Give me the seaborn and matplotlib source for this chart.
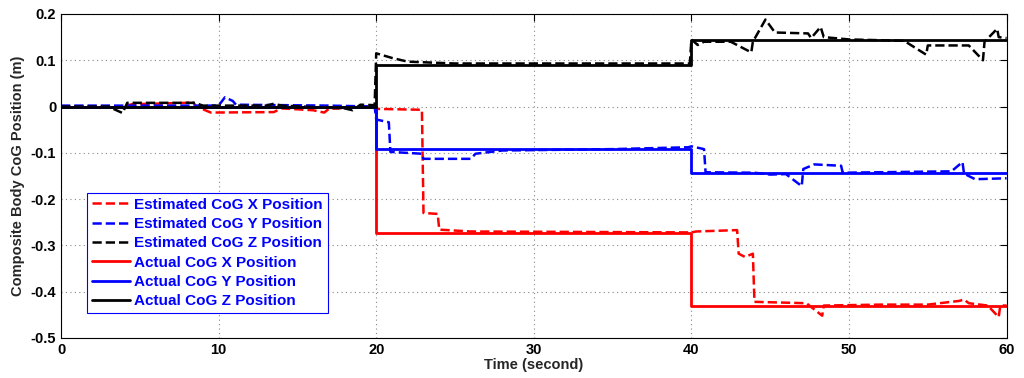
"""Composite body CoG position: estimated vs actual (MATLAB-style figure)."""

import matplotlib
matplotlib.use("Agg")
import matplotlib.pyplot as plt
import matplotlib.ticker as mticker
import pandas as pd
import seaborn as sns

# actual CoG (piecewise constant, step changes at 20 s and 40 s)
t_act = [0, 20, 40, 60]
act_x = [0.0, -0.273, -0.430, -0.430]
act_y = [0.0, -0.092, -0.144, -0.144]
act_z = [0.0, 0.090, 0.144, 0.144]

# estimated CoG, breakpoints
t_est_x = [0, 4, 4.5, 8, 8.3, 8.6, 9.5, 13.5, 14, 16, 16.7, 17, 19.9, 20, 22.9, 23,
           23.9, 24, 26, 40, 40.3, 42.9, 43, 43.4, 43.9, 44, 47.3, 48.3, 48.4, 52,
           55, 57, 57.3, 57.6, 58.8, 59.5, 59.6, 60]
est_x = [0.0, 0.0, 0.005, 0.008, 0.012, 0.0, -0.013, -0.012, -0.004, -0.008, -0.013,
         -0.005, 0.0, -0.005, -0.007, -0.230, -0.232, -0.266, -0.270, -0.272, -0.270,
         -0.267, -0.318, -0.325, -0.318, -0.422, -0.425, -0.452, -0.430, -0.428,
         -0.428, -0.420, -0.417, -0.425, -0.430, -0.455, -0.430, -0.430]

t_est_y = [0, 10, 10.4, 10.9, 11.1, 17, 19.9, 20, 20.8, 20.9, 22.9, 23, 26, 26.3, 28,
           35, 39.8, 40, 40.8, 40.9, 44, 45, 46, 47, 47.1, 47.8, 49.5, 49.6, 56.5,
           57.2, 57.3, 58, 60]
est_y = [0.002, 0.002, 0.020, 0.012, 0.004, 0.002, 0.0, -0.028, -0.034, -0.098,
         -0.102, -0.113, -0.113, -0.102, -0.095, -0.092, -0.088, -0.086, -0.092,
         -0.142, -0.143, -0.147, -0.146, -0.172, -0.135, -0.125, -0.128, -0.143,
         -0.140, -0.120, -0.145, -0.157, -0.155]

t_est_z = [0, 3, 3.9, 4.2, 8.5, 9, 13, 13.5, 14, 18, 18.5, 19, 19.9, 20, 21, 22, 25,
           39.9, 40, 40.4, 40.8, 42.5, 43.8, 43.9, 44.7, 45.3, 47.4, 47.6, 48.2, 48.4,
           50, 53.5, 54.9, 55, 57.6, 58.5, 58.6, 59.4, 59.5, 60]
est_z = [0.0, 0.0, -0.014, 0.008, 0.008, 0.002, 0.002, 0.006, 0.002, -0.004, -0.008,
         0.004, 0.003, 0.115, 0.105, 0.097, 0.093, 0.093, 0.145, 0.133, 0.140, 0.140,
         0.117, 0.140, 0.188, 0.160, 0.158, 0.148, 0.172, 0.150, 0.145, 0.142, 0.112,
         0.132, 0.132, 0.100, 0.140, 0.168, 0.150, 0.148]

est_series = [
    ("Estimated CoG X Position", t_est_x, est_x, "red"),
    ("Estimated CoG Y Position", t_est_y, est_y, "blue"),
    ("Estimated CoG Z Position", t_est_z, est_z, "black"),
]
act_series = [
    ("Actual CoG X Position", act_x, "red"),
    ("Actual CoG Y Position", act_y, "blue"),
    ("Actual CoG Z Position", act_z, "black"),
]

sns.set_style("white")
plt.rcParams["font.family"] = ["Liberation Sans", "DejaVu Sans"]
plt.rcParams["font.weight"] = "bold"

fig = plt.figure(figsize=(10.24, 3.78), dpi=100)
ax = fig.add_axes([0.0596, 0.106, 0.9234, 0.857])

for label, t, v, c in est_series:
    df = pd.DataFrame({"t": t, "v": v})
    sns.lineplot(data=df, x="t", y="v", ax=ax, color=c, linestyle="--",
                 linewidth=1.8, sort=False, estimator=None, label=label,
                 dashes=False)

for label, v, c in act_series:
    df = pd.DataFrame({"t": t_act, "v": v})
    sns.lineplot(data=df, x="t", y="v", ax=ax, color=c, linewidth=2.0,
                 sort=False, estimator=None, label=label, drawstyle="steps-post")

ax.set_xlim(0, 60)
ax.set_ylim(-0.5, 0.2)
ax.set_xticks(range(0, 61, 10))
ax.set_yticks([-0.5, -0.4, -0.3, -0.2, -0.1, 0, 0.1, 0.2])
ax.yaxis.set_major_formatter(mticker.FuncFormatter(lambda v, p: f"{v:g}"))
ax.tick_params(direction="in", length=5, width=0.8, top=True, right=True,
               labelsize=10.5, colors="black")
for lab in ax.get_xticklabels() + ax.get_yticklabels():
    lab.set_fontweight("bold")
ax.grid(True, linestyle=(0, (1, 3)), color="#888888", linewidth=0.8)
for s in ax.spines.values():
    s.set_color("black")
    s.set_linewidth(0.8)

ax.set_xlabel("Time (second)", fontsize=10.5, fontweight="bold", labelpad=1)
ax.set_ylabel("Composite Body CoG Position (m)", fontsize=10.5, fontweight="bold",
              labelpad=4)

leg = ax.legend(loc="lower left", bbox_to_anchor=(0.0275, 0.077), borderaxespad=0,
                fontsize=11, frameon=True, fancybox=False, framealpha=1,
                borderpad=0.3, labelspacing=0.35, handlelength=2.5,
                handletextpad=0.3)
leg.get_frame().set_edgecolor("blue")
leg.get_frame().set_linewidth(0.8)
for txt in leg.get_texts():
    txt.set_color("blue")
    txt.set_fontweight("bold")

fig.savefig("out.png", dpi=100)
